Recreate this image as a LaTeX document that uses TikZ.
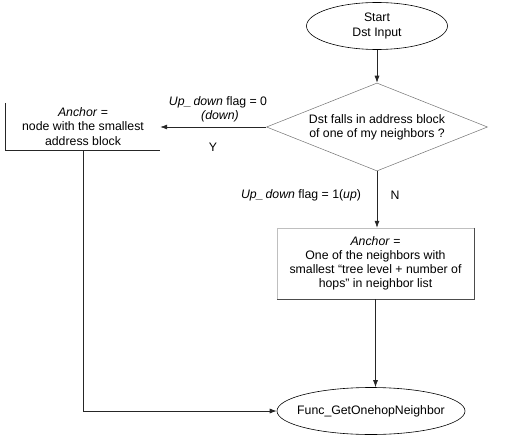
\documentclass[tikz,border=0pt]{standalone}
\usepackage{fontspec}
\setmainfont{Liberation Sans}
\usetikzlibrary{shapes.geometric,arrows.meta}

\tikzset{
  every node/.style={font=\fontsize{12.3}{14.2}\selectfont, align=center},
  oval/.style={draw, ellipse, line width=0.6pt, inner sep=0pt},
  flow/.style={line width=0.7pt, draw=black!85, -{Latex[length=7pt,width=5pt]}},
}

\begin{document}
\begin{tikzpicture}[x=1pt,y=-1pt]
\useasboundingbox (0,0) rectangle (532,441);

\node[oval, minimum width=141pt, minimum height=47pt] (start) at (377,26) {Start\\Dst Input};
\node[diamond, draw=black!55, line width=0.5pt, aspect=2.5, inner sep=0pt,
      minimum width=221pt, minimum height=88pt] (test) at (377,127)
      {Dst falls in address block\\of one of my neighbors ?};

\node[minimum width=154pt, minimum height=47pt, inner sep=0pt] (anchorL) at (83,126.5)
      {\textit{Anchor} =\\node with the smallest\\address block};
\draw[line width=0.7pt, black!85] (anchorL.north west) -- (anchorL.south west) -- (anchorL.south east);

\node[minimum width=197pt, minimum height=71pt, inner sep=0pt] (anchorR) at (375.5,263.5)
      {\textit{Anchor} =\\One of the neighbors with\\smallest \textquotedblleft tree level + number of\\hops" in neighbor list};
\draw[line width=0.5pt, black!25] (anchorR.south west) -- (anchorR.north west) -- (anchorR.north east);
\draw[line width=0.7pt, black!70] (anchorR.north east) -- (anchorR.south east) -- (anchorR.south west);

\node[oval, inner xsep=-30pt, minimum width=188pt, minimum height=47pt] (func) at (371,411) {Func\_GetOnehopNeighbor};

% connectors
\draw[flow] (start) -- (test);
\draw[flow] (test.west) -- (anchorL.east |- test.west) coordinate (tipL);
\draw[flow] (test.south) -- (test.south |- anchorR.north);
\draw[flow] (anchorR.south) -- (anchorR.south |- func.north);
\draw[flow] (anchorL.south) |- (func.west);

% branch labels
\node (flag0) at (218,102) {\textit{Up\_\,down} flag = 0};
\node (down) at (220,116) {\textit{(down)}};
\node (yes) at (213,147) {Y};
\node (flag1) at (301,195) {\textit{Up\_\,down} flag = 1(\textit{up})};
\node (no) at (395,195) {N};
\end{tikzpicture}
\end{document}
